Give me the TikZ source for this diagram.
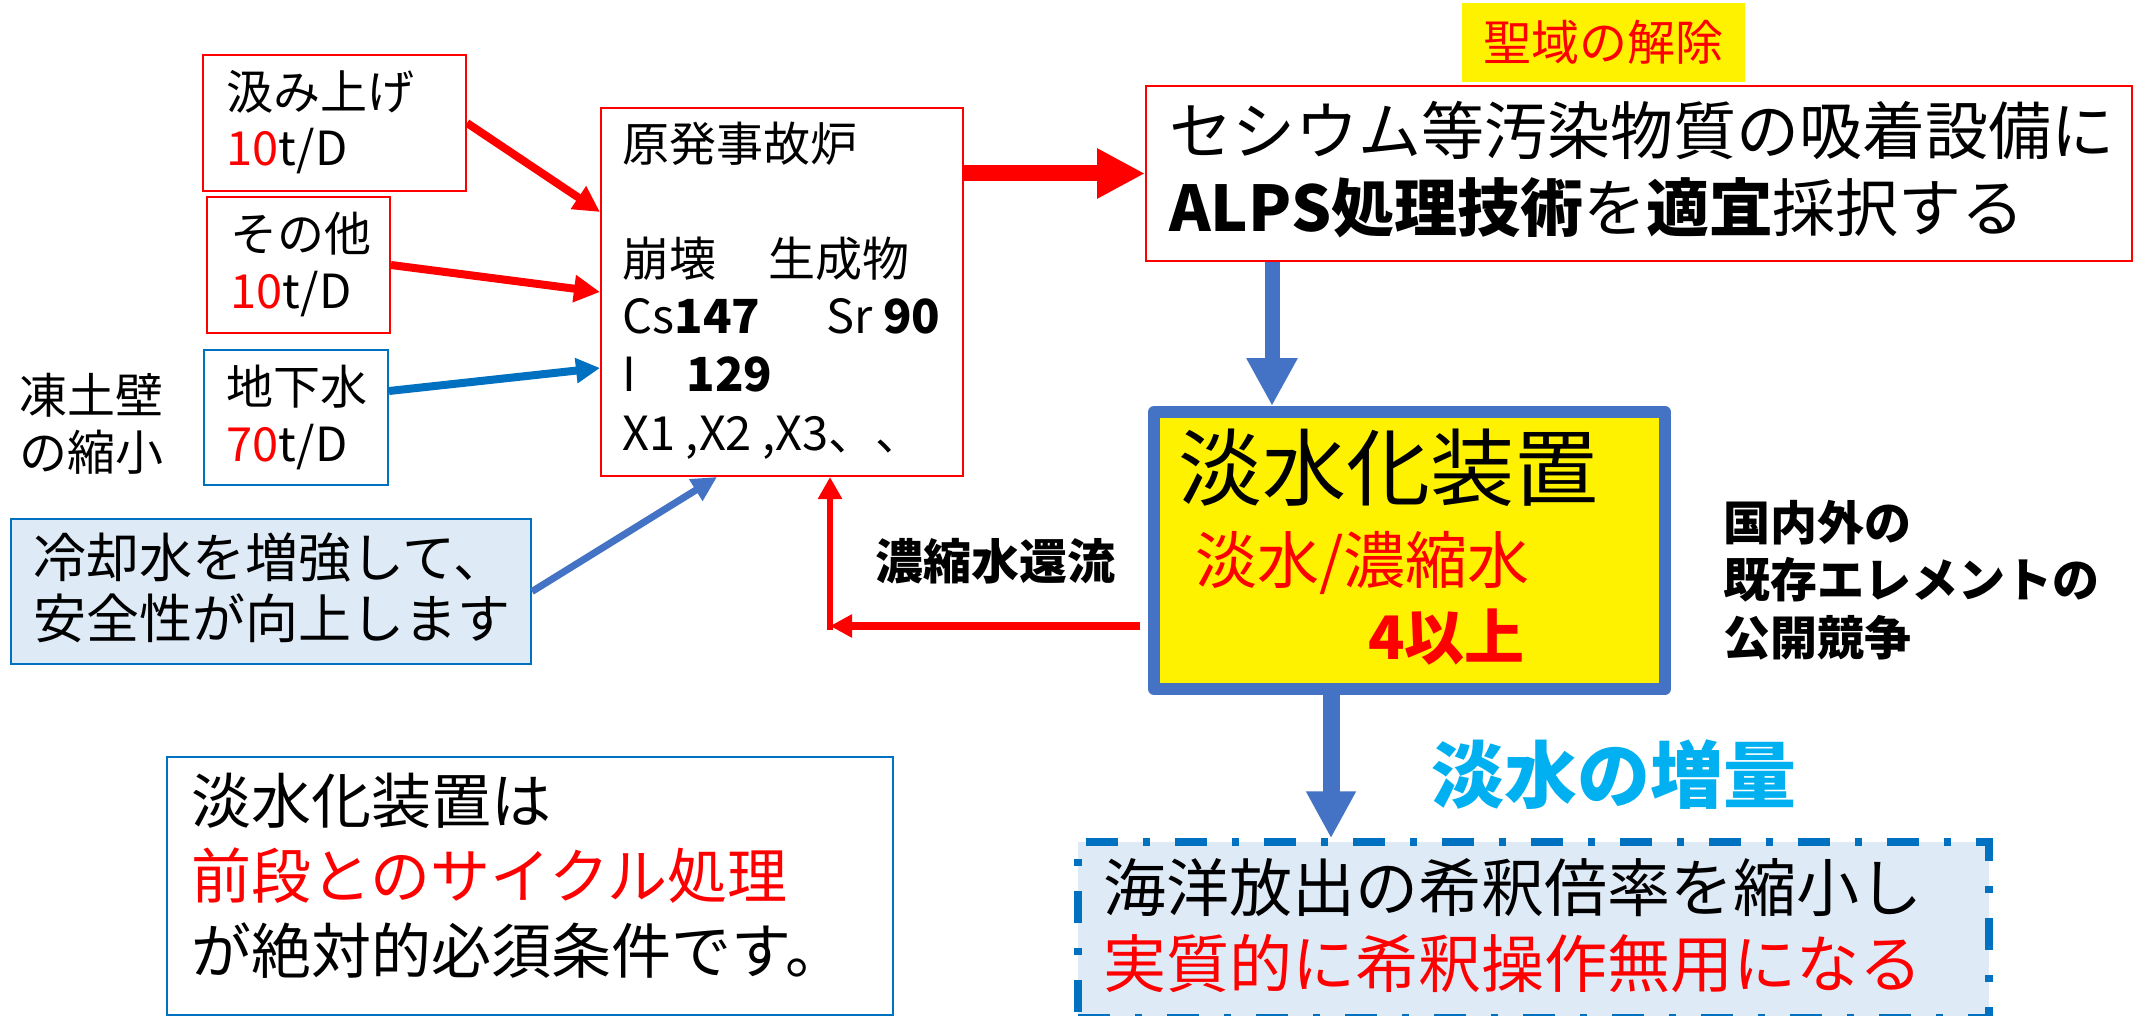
\documentclass[tikz,border=0pt]{standalone}
\usepackage{fontspec}
\setmainfont{Noto Sans CJK JP}
\usetikzlibrary{arrows.meta}
\definecolor{cred}{HTML}{FF0000}
\definecolor{cblue}{HTML}{0070C0}
\definecolor{cblueb}{HTML}{4472C4}
\definecolor{clight}{HTML}{DEEBF7}
\definecolor{ccyan}{HTML}{00B0F0}
\newcommand\fsz[1]{\fontsize{#1}{#1}\selectfont}
\begin{document}
\begin{tikzpicture}[x=0.5pt,y=-0.5pt,
  box/.style={rectangle, inner sep=0pt, line width=1pt},
  txt/.style={anchor=base west, inner sep=0pt},
  redarr/.style={draw=cred, line width=4pt, -{Triangle[length=13pt,width=13pt]}},
  ]
\useasboundingbox (0,0) rectangle (2136,1016);
\fill[white] (0,0) rectangle (2136,1016);

% boxes
\node[box, draw=cred, minimum width=131.5pt, minimum height=68pt] (kumi) at (334.5,123) {};
\node[box, draw=cred, minimum width=91.5pt, minimum height=68pt] (sonota) at (298.5,265) {};
\node[box, draw=cblue, minimum width=92pt, minimum height=67.5pt] (chika) at (296,417.5) {};
\node[box, draw=cred, minimum width=181pt, minimum height=184pt] (reactor) at (782,292) {};
\node[box, draw=cblue, fill=clight, minimum width=260pt, minimum height=72.5pt] (cool) at (271,591.5) {};
\node[box, draw=cblue, minimum width=363pt, minimum height=129pt] (note) at (530,886) {};
\node[box, fill=yellow, minimum width=141.5pt, minimum height=39.5pt, font=\fsz{24pt}, text=cred] (sanct) at (1603.5,42.5) {聖域の解除};
\node[box, draw=cred, minimum width=493pt, minimum height=87.5pt] (ces) at (1639,173.5) {};
\node[box, draw=cblueb, fill=yellow, line width=6pt, line join=round, minimum width=255.5pt, minimum height=138.5pt] (desal) at (1409.5,550.5) {};
\node[box, draw=cblue, fill=clight, line width=3.75pt, dash pattern=on 16pt off 12.5pt on 3.5pt off 12.5pt, minimum width=455.5pt, minimum height=88pt] (release) at (1533.5,930) {};

% texts
\node[txt, font=\fsz{23.5pt}] (kumiA) at (226,110) {汲み上げ};
\node[txt, font=\fsz{23.5pt}] (kumiB) at (226,166) {\textcolor{cred}{10}t/D};
\node[txt, font=\fsz{23.5pt}] (sonoA) at (230,252) {その他};
\node[txt, font=\fsz{23.5pt}] (sonoB) at (230,308) {\textcolor{cred}{10}t/D};
\node[txt, font=\fsz{23.5pt}] (chikaA) at (226,404) {地下水};
\node[txt, font=\fsz{23.5pt}] (chikaB) at (226,461) {\textcolor{cred}{70}t/D};
\node[txt, font=\fsz{24pt}] (touA) at (19,413) {凍土壁};
\node[txt, font=\fsz{24pt}] (touB) at (19,470) {の縮小};

\node[txt, font=\fsz{23.5pt}] (rA) at (622,162) {原発事故炉};
\node[txt, font=\fsz{23.5pt}] (rB) at (622,277) {\makebox[73pt][l]{崩壊}生成物};
\node[txt, font=\fsz{23.5pt}] (rC) at (622,334) {\makebox[102pt][l]{Cs\textbf{147}}Sr \textbf{90}};
\node[txt, font=\fsz{23.5pt}] (rD) at (622,391) {\makebox[32pt][l]{I}\textbf{129}};
\node[txt, font=\fsz{23.5pt}] (rE) at (622,450) {X1 ,X2 ,X3、、};

\node[txt, font=\fsz{31.5pt}] (cesA) at (1169,155) {セシウム等汚染物質の吸着設備に};
\node[txt, font=\fsz{31.5pt}] (cesB) at (1169,232) {\textbf{ALPS処理技術}を\textbf{適宜}採択する};

\node[txt, font=\fsz{42pt}] (dA) at (1178,499) {淡水化装置};
\node[txt, font=\fsz{31pt}, text=cred] (dB) at (1195,583.5) {淡水/濃縮水};
\node[txt, font=\bfseries\fsz{30pt}, text=cred] (dC) at (1368,659) {4以上};

\node[txt, font=\bfseries\fsz{23.5pt}] (kA) at (1723,540) {国内外の};
\node[txt, font=\bfseries\fsz{23.5pt}] (kB) at (1723,597) {既存エレメントの};
\node[txt, font=\bfseries\fsz{23.5pt}] (kC) at (1723,655) {公開競争};

\node[txt, font=\bfseries\fsz{24pt}] (retlbl) at (875,579) {濃縮水還流};
\node[txt, font=\bfseries\fsz{36.5pt}, text=ccyan] (incr) at (1431,802) {淡水の増量};

\node[txt, font=\fsz{31.5pt}] (relA) at (1103,911) {海洋放出の希釈倍率を縮小し};
\node[txt, font=\fsz{31.5pt}, text=cred] (relB) at (1103,987) {実質的に希釈操作無用になる};

\node[txt, font=\fsz{26.5pt}] (coolA) at (33,577) {冷却水を増強して、};
\node[txt, font=\fsz{26.5pt}] (coolB) at (33,638) {安全性が向上します};

\node[txt, font=\fsz{30pt}] (noteA) at (191,823) {淡水化装置は};
\node[txt, font=\fsz{30pt}, text=cred] (noteB) at (191,898) {前段とのサイクル処理};
\node[txt, font=\fsz{30pt}] (noteC) at (191,973) {が絶対的必須条件です。};

% connectors
\draw[redarr] (kumi.east) -- ([yshift=40pt]reactor.west);
\draw[redarr] (sonota.east) -- (reactor.west);
\draw[draw=cblue, line width=4pt, -{Triangle[length=12pt,width=12pt]}] ([yshift=13.25pt]chika.east) -- ([yshift=-38pt]reactor.west);
\draw[draw=cblueb, line width=3.5pt, -{Triangle[length=12.5pt,width=12pt]}] (cool.east) -- ([xshift=-32.5pt]reactor.south);
\coordinate (ret) at (830,626);
\draw[draw=cred, line width=4pt, shorten <=4pt, -{Triangle[length=11pt,width=11pt]}] (desal.west |- ret) -- (ret);
\draw[draw=cred, line width=3.3pt, -{Triangle[length=11pt,width=11.5pt]}] ([yshift=-2pt]ret) -- (ret |- reactor.south);
\draw[draw=cred, line width=8pt, -{Triangle[length=24pt,width=23.5pt]}] (ces.west -| reactor.east) -- (ces.west);
\coordinate (ax1) at (1272,0);
\draw[draw=cblueb, line width=7.5pt, -{Triangle[length=24pt,width=24pt]}] (ces.south -| ax1) -- (desal.north -| ax1);
\coordinate (ax2) at (1331,0);
\draw[draw=cblueb, line width=8.5pt, -{Triangle[length=23.5pt,width=23.5pt]}] (desal.south -| ax2) -- (release.north -| ax2);
\end{tikzpicture}
\end{document}
